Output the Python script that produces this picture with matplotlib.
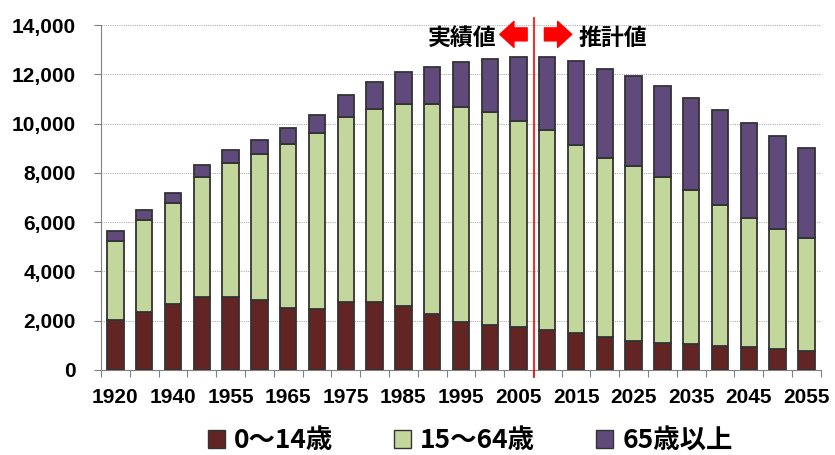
import numpy as np
import matplotlib
matplotlib.use('Agg')
import matplotlib.pyplot as plt

# population by age group (10 thousand persons)
years = ['1920', '1930', '1940', '1950', '1955', '1960', '1965', '1970', '1975', '1980',
         '1985', '1990', '1995', '2000', '2005', '2010', '2015', '2020', '2025', '2030',
         '2035', '2040', '2045', '2050', '2055']
age_0_14 = [2030, 2370, 2670, 2940, 2940, 2820, 2530, 2470, 2740, 2740,
            2610, 2250, 1960, 1830, 1760, 1600, 1480, 1330, 1190, 1110,
            1040, 990, 910, 830, 760]
age_15_64 = [3210, 3710, 4120, 4910, 5470, 5960, 6660, 7140, 7520, 7870,
             8200, 8550, 8710, 8620, 8350, 8140, 7640, 7290, 7090, 6740,
             6250, 5690, 5240, 4910, 4580]
age_65 = [380, 400, 380, 450, 510, 560, 650, 720, 910, 1060,
          1290, 1500, 1840, 2190, 2610, 2980, 3400, 3600, 3660, 3670,
          3740, 3880, 3890, 3740, 3660]
legend_labels = ['0～14歳', '15～64歳', '65歳以上']
colors = ['#632523', '#C3D69B', '#604A7B']

plt.rcParams['font.family'] = ['Liberation Sans', 'Noto Sans CJK JP']

fig = plt.figure(figsize=(8.35, 4.55), dpi=100)
ax = fig.add_axes([0.121, 0.187, 0.862, 0.758])

x = np.arange(len(years))
bottom = np.zeros(len(years))
for vals, c, lab in zip([age_0_14, age_15_64, age_65], colors, legend_labels):
    ax.bar(x, vals, width=0.57, bottom=bottom, color=c, edgecolor='#333333',
           linewidth=1.3, label=lab, zorder=3)
    bottom += np.array(vals)

ax.set_xlim(-0.5, len(years) - 0.5)
ax.set_ylim(0, 14000)
ax.set_yticks(np.arange(0, 14001, 2000))
ax.set_yticklabels([f'{v:,}' for v in range(0, 14001, 2000)],
                   fontsize=15, fontweight='bold')
ax.yaxis.grid(True, color='#B0B0B0', linestyle=(0, (1, 1)), linewidth=0.8, zorder=0)
ax.tick_params(axis='y', length=5, color='#808080', pad=13)

# tick marks between categories, labels on every other bar
ax.set_xticks(np.arange(-0.5, len(years), 1.0))
ax.set_xticklabels([])
ax.tick_params(axis='x', which='major', length=5, color='#808080')
ax.set_xticks(x[::2], minor=True)
ax.set_xticklabels(years[::2], minor=True, fontsize=15, fontweight='bold')
ax.tick_params(axis='x', which='minor', length=0, pad=13)

for s in ['top', 'right']:
    ax.spines[s].set_visible(False)
ax.spines['left'].set_color('#808080')
ax.spines['bottom'].set_color('#808080')

# actual / projection divider
ax.axvline(14.55, ymin=-0.02, ymax=1.02, color='red', linewidth=1.2, clip_on=False, zorder=4)
ax.text(12.03, 13450, '実績値', ha='center', va='center', fontsize=16.5,
        fontweight='bold', family='Noto Sans CJK JP')
ax.text(17.28, 13450, '推計値', ha='center', va='center', fontsize=16.5,
        fontweight='bold', family='Noto Sans CJK JP')
arrow = dict(arrowstyle='simple,head_length=0.6,head_width=1.1,tail_width=0.55',
             color='red', mutation_scale=17, shrinkA=0, shrinkB=0)
ax.annotate('', xy=(13.35, 13620), xytext=(14.3, 13620), arrowprops=arrow)
ax.annotate('', xy=(15.85, 13620), xytext=(14.9, 13620), arrowprops=arrow)

leg = fig.legend(loc='center', bbox_to_anchor=(0.563, 0.031), ncol=3, frameon=False,
                 handlelength=0.65, handleheight=0.65, handletextpad=0.35,
                 columnspacing=2.3,
                 prop={'family': 'Noto Sans CJK JP', 'weight': 'bold', 'size': 19})
for h in leg.legend_handles:
    h.set_edgecolor('#333333')
    h.set_linewidth(1.0)

fig.savefig('out.png', dpi=100)
